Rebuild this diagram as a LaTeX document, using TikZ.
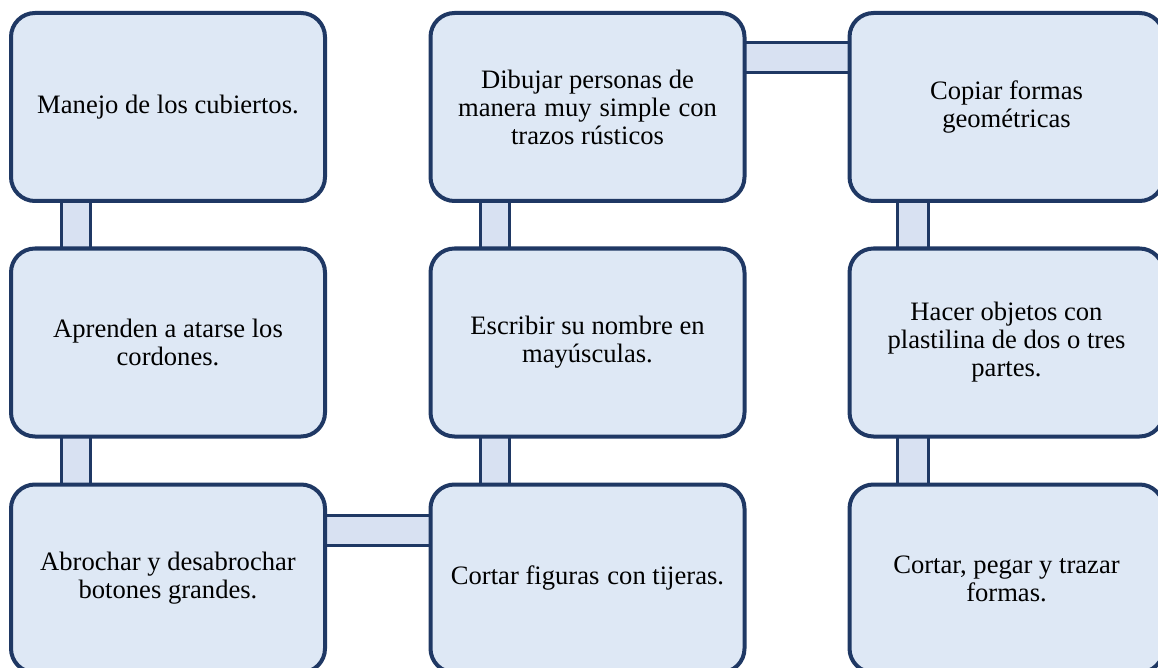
\documentclass[tikz,border=0pt]{standalone}
\usepackage{fontspec}
\setmainfont{Liberation Serif}
\usetikzlibrary{calc,backgrounds}
\definecolor{bord}{RGB}{31,56,100}
\definecolor{boxfill}{RGB}{222,232,245}
\definecolor{connfill}{RGB}{216,225,242}
\begin{document}
\begin{tikzpicture}[x=1pt,y=-1pt,
  box/.style={draw=bord, line width=4pt, fill=boxfill, rounded corners=24pt,
    minimum width=314pt, minimum height=188pt, align=center,
    font=\fontsize{26.6}{28}\selectfont, inner sep=0pt},
  conn/.style={draw=bord, line width=3pt, fill=connfill}]
\useasboundingbox (0,0) rectangle (1158,668);
\clip (0,0) rectangle (1158,668);
\node[box] (a1) at (168,107) {Manejo de los cubiertos.};
\node[box] (a2) at (168,342.5) {Aprenden a atarse los\\cordones.};
\node[box] (a3) at (168,578.5) {Abrochar y desabrochar\\botones grandes.};
\node[box] (b1) at (587.5,107) {Dibujar personas de\\manera\hspace{0.3em}muy\hspace{0.3em}simple\hspace{0.3em}con\\trazos rústicos};
\node[box] (b2) at (587.5,342.5) {Escribir su nombre en\\mayúsculas.};
\node[box] (b3) at (587.5,578.5) {Cortar figuras\hspace{0.3em}con tijeras.};
\node[box] (c1) at (1006.5,107) {Copiar formas\\geométricas};
\node[box] (c2) at (1006.5,342.5) {Hacer objetos con\\plastilina de dos o tres\\partes.};
\node[box] (c3) at (1006.5,578.5) {Cortar, pegar y trazar\\formas.};
\begin{pgfonlayer}{background}
\path[conn] ($(a1.south west)+(52,-10)$) rectangle ($(a2.north west)+(81,10)$);
\path[conn] ($(a2.south west)+(52,-10)$) rectangle ($(a3.north west)+(81,10)$);
\path[conn] ($(b1.south west)+(52,-10)$) rectangle ($(b2.north west)+(81,10)$);
\path[conn] ($(b2.south west)+(52,-10)$) rectangle ($(b3.north west)+(81,10)$);
\path[conn] ($(c1.south west)+(50,-10)$) rectangle ($(c2.north west)+(81,10)$);
\path[conn] ($(c2.south west)+(50,-10)$) rectangle ($(c3.north west)+(81,10)$);
\path[conn] ($(a3.north east)+(-10,33)$) rectangle ($(b3.north west)+(10,63)$);
\path[conn] ($(b1.north east)+(-10,32)$) rectangle ($(c1.north west)+(10,62)$);
\end{pgfonlayer}
\end{tikzpicture}
\end{document}
